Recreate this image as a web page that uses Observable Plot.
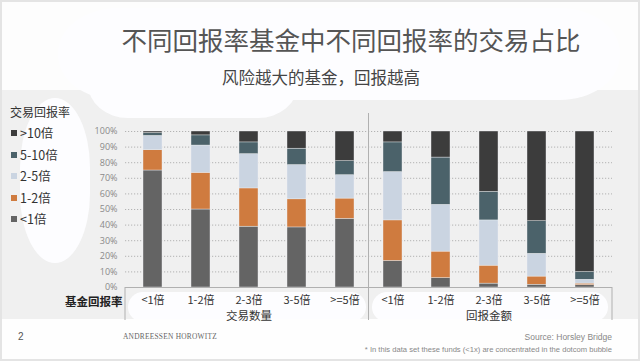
<!DOCTYPE html>
<html>
<head>
<meta charset="utf-8">
<script src="https://cdn.jsdelivr.net/npm/d3@7"></script>
<script src="https://cdn.jsdelivr.net/npm/@observablehq/plot@0.6"></script>
<style>
  html, body { margin: 0; padding: 0; background: #fff; }
  #page { position: relative; width: 640px; height: 361px; overflow: hidden; background: #fdfdfd;
          box-shadow: inset 0 0 0 2px #e4e4e4; font-family: "Noto Sans CJK SC", sans-serif; }
  .abs { position: absolute; }
  .blob { position: absolute; background: #fdfdff; }
  #chart { position: absolute; left: 0; top: 0; }
  .leg { position: absolute; left: 11px; font-size: 12.5px; color: #333; white-space: nowrap; line-height: 1; }
  .leg i { display: inline-block; width: 6px; height: 6px; margin-right: 3px; vertical-align: 2px; }
</style>
</head>
<body>
<div id="page">
  <div class="abs" style="left:2px;right:2px;top:90px;height:229px;background:#f0f0f0;"></div>
  <div class="blob" style="left:58px;top:8px;width:562px;height:92px;border-radius:60px/45px;"></div>
  <div class="blob" style="left:88px;top:50px;width:210px;height:68px;border-radius:40px/34px;"></div>
  <div class="blob" style="left:20px;top:98px;width:70px;height:165px;border-radius:35px/70px;"></div>
  <div class="blob" style="left:128px;top:292px;width:238px;height:30px;border-radius:15px;"></div>
  <div class="blob" style="left:372px;top:292px;width:236px;height:30px;border-radius:15px;"></div>
  <div class="abs" style="left:2px;right:2px;top:319px;bottom:2px;background:#fefefe;"></div>

  <div id="title" class="abs" style="left:0;width:640px;top:26px;text-align:center;font-size:25.5px;line-height:1;color:#555;padding-left:62px;box-sizing:border-box;"></div>
  <div id="subtitle" class="abs" style="left:222px;top:69px;font-size:16.5px;line-height:1;color:#444;white-space:nowrap;"></div>

  <div id="legendTitle" class="abs" style="left:10px;top:106px;font-size:12px;line-height:1;color:#333;"></div>
  <div id="legend"></div>

  <div id="chart"></div>

  <div id="pageNum" class="abs" style="left:18px;top:332px;font-size:10px;line-height:1;color:#555;font-family:'Liberation Sans',sans-serif;"></div>
  <div id="brand" class="abs" style="left:123px;top:333px;font-size:7.4px;line-height:1;color:#666;letter-spacing:0.25px;font-family:'Liberation Serif',serif;"></div>
  <div id="source" class="abs" style="right:28px;top:333px;font-size:8.5px;line-height:1;color:#888;font-family:'Liberation Sans',sans-serif;"></div>
  <div id="note" class="abs" style="right:28px;top:346px;font-size:7.6px;line-height:1;color:#888;font-family:'Liberation Sans',sans-serif;white-space:nowrap;"></div>
</div>
<script>
// ---- Text ----
const titleText = "不同回报率基金中不同回报率的交易占比";
const subtitleText = "风险越大的基金，回报越高";
const legendTitle = "交易回报率";
const xAxisTitle = "基金回报率";
const pageNumber = "2";
const brandText = "ANDREESSEN HOROWITZ";
const sourceText = "Source: Horsley Bridge";
const noteText = "* In this data set these funds (<1x) are concentrated in the dotcom bubble";

// ---- Categories ----
const groups = ["交易数量", "回报金额"];
const fundCats = ["<1倍", "1-2倍", "2-3倍", "3-5倍", ">=5倍"];
const dealCats = ["<1倍", "1-2倍", "2-5倍", "5-10倍", ">10倍"]; // stack order, bottom to top
const dealColors = ["#646464", "#cf7b3f", "#cad4e1", "#4b626a", "#3c3c3c"];
const yTicks = [0, 10, 20, 30, 40, 50, 60, 70, 80, 90, 100];

// ---- Values (%), per fund category ----
// 交易数量 (share of deals)
const count_lt1 = [75, 50, 39, 38.5, 44];
const count_1to2 = [13, 23.5, 24.5, 18, 13];
const count_2to5 = [9.2, 17.5, 22, 22, 15];
const count_5to10 = [1.8, 6.5, 7.5, 10.5, 9];
const count_gt10 = [1, 2.5, 7, 11, 19];
// 回报金额 (share of returned value)
const amount_lt1 = [17, 6, 2.5, 1.8, 1.5];
const amount_1to2 = [26, 17, 11.5, 5.2, 1];
const amount_2to5 = [31, 30, 29, 14.6, 2.5];
const amount_5to10 = [19, 30.3, 18.3, 20.9, 4.9];
const amount_gt10 = [7, 16.7, 38.7, 57.5, 90.1];

const seriesByGroup = {
  "交易数量": [count_lt1, count_1to2, count_2to5, count_5to10, count_gt10],
  "回报金额": [amount_lt1, amount_1to2, amount_2to5, amount_5to10, amount_gt10]
};

// ---- Build table ----
const keyOf = (g, f) => g + "|" + f;
const rows = [];
for (const g of groups) {
  fundCats.forEach((f, i) => {
    dealCats.forEach((d, j) => {
      rows.push({group: g, fund: f, deal: d, key: keyOf(g, f), value: seriesByGroup[g][j][i]});
    });
  });
}
const xDomain = groups.flatMap(g => fundCats.map(f => keyOf(g, f)));

// ---- Static texts ----
document.getElementById("title").textContent = titleText;
document.getElementById("subtitle").textContent = subtitleText;
document.getElementById("legendTitle").textContent = legendTitle;
document.getElementById("pageNum").textContent = pageNumber;
document.getElementById("brand").textContent = brandText;
document.getElementById("source").textContent = sourceText;
document.getElementById("note").textContent = noteText;

const legend = document.getElementById("legend");
[...dealCats].reverse().forEach((d, i) => {
  const el = document.createElement("div");
  el.className = "leg";
  el.style.top = (127 + i * 21.5) + "px";
  const sw = document.createElement("i");
  sw.style.background = dealColors[dealCats.indexOf(d)];
  el.appendChild(sw);
  el.appendChild(document.createTextNode(d));
  legend.appendChild(el);
});

// ---- Chart ----
const plot = Plot.plot({
  width: 640,
  height: 361,
  marginTop: 131,
  marginBottom: 74,
  marginLeft: 125,
  marginRight: 28,
  style: {background: "transparent", fontFamily: "'Noto Sans CJK SC', sans-serif", overflow: "visible"},
  x: {domain: xDomain, paddingInner: 0.6, paddingOuter: 0.3, axis: null},
  y: {domain: [0, 100], axis: null},
  color: {domain: dealCats, range: dealColors},
  marks: [
    Plot.gridY(yTicks, {stroke: "#9a9a9a", strokeOpacity: 0.9, strokeDasharray: "1.2,1.8", strokeWidth: 0.8}),
    Plot.axisY(yTicks, {tickSize: 0, tickPadding: 8, tickFormat: d => d + "%", fontSize: 9, fill: "#8a8a8a",
      fontFamily: "'Open Sans', sans-serif", label: null}),
    Plot.barY(rows, Plot.stackY({x: "key", y: "value", fill: "deal", order: dealCats, stroke: "#eef0f2", strokeWidth: 0.4})),
    Plot.text(xDomain, {x: d => d, text: k => k.split("|")[1], frameAnchor: "bottom", lineAnchor: "middle", dy: 12.5, fontSize: 11, fill: "#333"}),
    Plot.text(groups, {x: g => keyOf(g, fundCats[2]), text: d => d, frameAnchor: "bottom", lineAnchor: "middle", dy: 28.5, fontSize: 11.5, fill: "#333"}),
    Plot.text([xAxisTitle], {frameAnchor: "bottom-left", lineAnchor: "middle", text: d => d, dx: -3, dy: 15, textAnchor: "end", fontSize: 11.5, fill: "#222", fontWeight: 600})
  ]
});
document.getElementById("chart").appendChild(plot);

// ---- Frame / separator lines from the library's scales ----
const xs = plot.scale("x");
const ys = plot.scale("y");
const [x0, x1] = xs.range;
const bw = xs.bandwidth;
const sepX = (xs.apply(keyOf(groups[0], fundCats[fundCats.length - 1])) + bw + xs.apply(keyOf(groups[1], fundCats[0]))) / 2;
const yBase = ys.apply(0);
const yTop = ys.apply(100);
const svg = d3.select(plot.tagName.toLowerCase() === "svg" ? plot : plot.querySelector("svg"));
const g = svg.append("g").attr("stroke", "#b0b0b0").attr("stroke-width", 1);
g.append("line").attr("x1", x0).attr("x2", x1).attr("y1", yBase + 0.5).attr("y2", yBase + 0.5);
g.append("line").attr("x1", x0).attr("x2", x0).attr("y1", yBase).attr("y2", yBase + 33);
g.append("line").attr("x1", x1).attr("x2", x1).attr("y1", yBase).attr("y2", yBase + 33);
g.append("line").attr("x1", sepX).attr("x2", sepX).attr("y1", yTop - 18).attr("y2", yBase + 33);
</script>
</body>
</html>
